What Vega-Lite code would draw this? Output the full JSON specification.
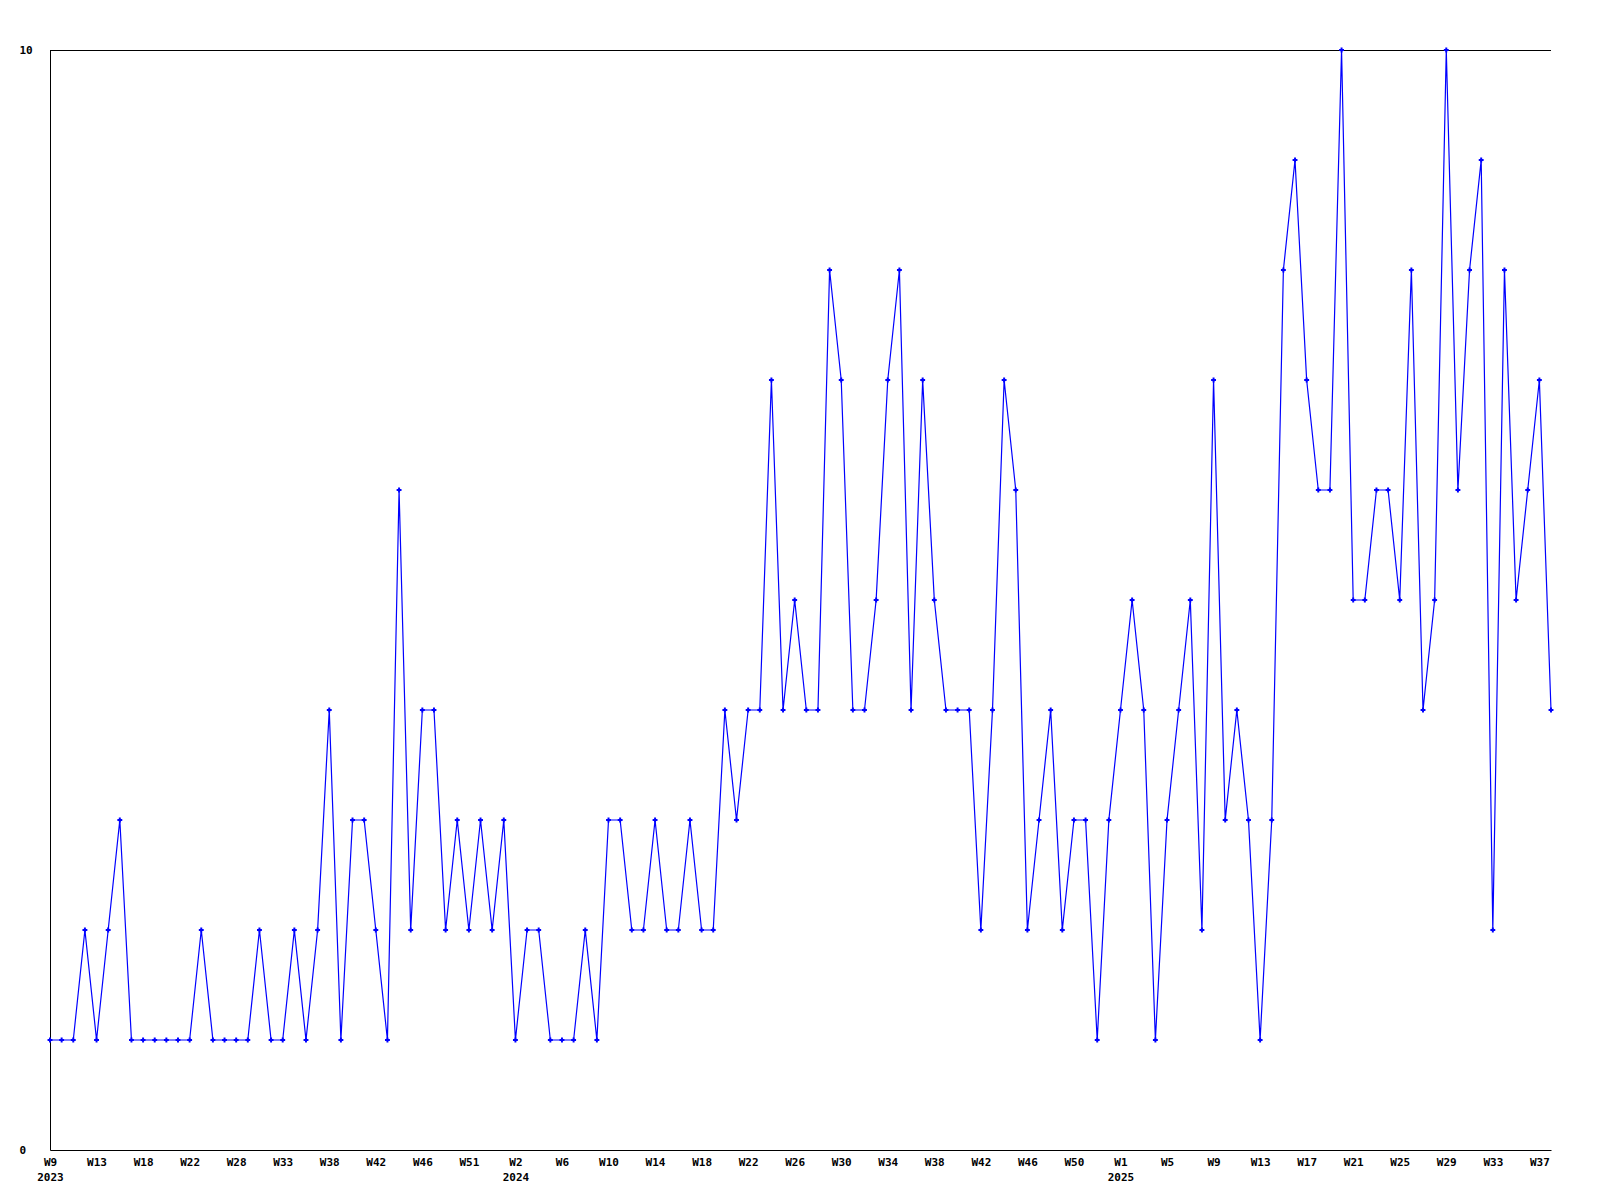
{
  "$schema": "https://vega.github.io/schema/vega-lite/v6.json",
  "width": 1501,
  "height": 1100,
  "autosize": {"type": "none"},
  "padding": {"left": 50, "top": 50, "right": 49, "bottom": 50},
  "background": "white",
  "config": {
    "view": {"stroke": null},
    "axis": {
      "labelFont": "DejaVu Sans Mono",
      "labelFontWeight": "bold",
      "labelFontSize": 11,
      "labelColor": "black",
      "domainColor": "black",
      "domainWidth": 1,
      "ticks": false,
      "grid": false,
      "title": null
    }
  },
  "data": {
    "values": [
      {"key": "2023-W9", "n": 1}, {"key": "2023-W10", "n": 1}, {"key": "2023-W11", "n": 1}, {"key": "2023-W12", "n": 2},
      {"key": "2023-W13", "n": 1}, {"key": "2023-W14", "n": 2}, {"key": "2023-W15", "n": 3}, {"key": "2023-W16", "n": 1},
      {"key": "2023-W18", "n": 1}, {"key": "2023-W19", "n": 1}, {"key": "2023-W20", "n": 1}, {"key": "2023-W21", "n": 1},
      {"key": "2023-W22", "n": 1}, {"key": "2023-W23", "n": 2}, {"key": "2023-W25", "n": 1}, {"key": "2023-W26", "n": 1},
      {"key": "2023-W28", "n": 1}, {"key": "2023-W29", "n": 1}, {"key": "2023-W30", "n": 2}, {"key": "2023-W31", "n": 1},
      {"key": "2023-W33", "n": 1}, {"key": "2023-W34", "n": 2}, {"key": "2023-W35", "n": 1}, {"key": "2023-W36", "n": 2},
      {"key": "2023-W38", "n": 4}, {"key": "2023-W39", "n": 1}, {"key": "2023-W40", "n": 3}, {"key": "2023-W41", "n": 3},
      {"key": "2023-W42", "n": 2}, {"key": "2023-W43", "n": 1}, {"key": "2023-W44", "n": 6}, {"key": "2023-W45", "n": 2},
      {"key": "2023-W46", "n": 4}, {"key": "2023-W47", "n": 4}, {"key": "2023-W48", "n": 2}, {"key": "2023-W50", "n": 3},
      {"key": "2023-W51", "n": 2}, {"key": "2023-W52", "n": 3}, {"key": "2023-W53", "n": 2}, {"key": "2024-W1", "n": 3},
      {"key": "2024-W2", "n": 1}, {"key": "2024-W3", "n": 2}, {"key": "2024-W4", "n": 2}, {"key": "2024-W5", "n": 1},
      {"key": "2024-W6", "n": 1}, {"key": "2024-W7", "n": 1}, {"key": "2024-W8", "n": 2}, {"key": "2024-W9", "n": 1},
      {"key": "2024-W10", "n": 3}, {"key": "2024-W11", "n": 3}, {"key": "2024-W12", "n": 2}, {"key": "2024-W13", "n": 2},
      {"key": "2024-W14", "n": 3}, {"key": "2024-W15", "n": 2}, {"key": "2024-W16", "n": 2}, {"key": "2024-W17", "n": 3},
      {"key": "2024-W18", "n": 2}, {"key": "2024-W19", "n": 2}, {"key": "2024-W20", "n": 4}, {"key": "2024-W21", "n": 3},
      {"key": "2024-W22", "n": 4}, {"key": "2024-W23", "n": 4}, {"key": "2024-W24", "n": 7}, {"key": "2024-W25", "n": 4},
      {"key": "2024-W26", "n": 5}, {"key": "2024-W27", "n": 4}, {"key": "2024-W28", "n": 4}, {"key": "2024-W29", "n": 8},
      {"key": "2024-W30", "n": 7}, {"key": "2024-W31", "n": 4}, {"key": "2024-W32", "n": 4}, {"key": "2024-W33", "n": 5},
      {"key": "2024-W34", "n": 7}, {"key": "2024-W35", "n": 8}, {"key": "2024-W36", "n": 4}, {"key": "2024-W37", "n": 7},
      {"key": "2024-W38", "n": 5}, {"key": "2024-W39", "n": 4}, {"key": "2024-W40", "n": 4}, {"key": "2024-W41", "n": 4},
      {"key": "2024-W42", "n": 2}, {"key": "2024-W43", "n": 4}, {"key": "2024-W44", "n": 7}, {"key": "2024-W45", "n": 6},
      {"key": "2024-W46", "n": 2}, {"key": "2024-W47", "n": 3}, {"key": "2024-W48", "n": 4}, {"key": "2024-W49", "n": 2},
      {"key": "2024-W50", "n": 3}, {"key": "2024-W51", "n": 3}, {"key": "2024-W52", "n": 1}, {"key": "2024-W53", "n": 3},
      {"key": "2025-W1", "n": 4}, {"key": "2025-W2", "n": 5}, {"key": "2025-W3", "n": 4}, {"key": "2025-W4", "n": 1},
      {"key": "2025-W5", "n": 3}, {"key": "2025-W6", "n": 4}, {"key": "2025-W7", "n": 5}, {"key": "2025-W8", "n": 2},
      {"key": "2025-W9", "n": 7}, {"key": "2025-W10", "n": 3}, {"key": "2025-W11", "n": 4}, {"key": "2025-W12", "n": 3},
      {"key": "2025-W13", "n": 1}, {"key": "2025-W14", "n": 3}, {"key": "2025-W15", "n": 8}, {"key": "2025-W16", "n": 9},
      {"key": "2025-W17", "n": 7}, {"key": "2025-W18", "n": 6}, {"key": "2025-W19", "n": 6}, {"key": "2025-W20", "n": 10},
      {"key": "2025-W21", "n": 5}, {"key": "2025-W22", "n": 5}, {"key": "2025-W23", "n": 6}, {"key": "2025-W24", "n": 6},
      {"key": "2025-W25", "n": 5}, {"key": "2025-W26", "n": 8}, {"key": "2025-W27", "n": 4}, {"key": "2025-W28", "n": 5},
      {"key": "2025-W29", "n": 10}, {"key": "2025-W30", "n": 6}, {"key": "2025-W31", "n": 8}, {"key": "2025-W32", "n": 9},
      {"key": "2025-W33", "n": 2}, {"key": "2025-W34", "n": 8}, {"key": "2025-W35", "n": 5}, {"key": "2025-W36", "n": 6},
      {"key": "2025-W37", "n": 7}, {"key": "2025-W38", "n": 4}
    ]
  },
  "layer": [
    {
      "mark": {"type": "rule", "color": "black", "strokeWidth": 1, "yOffset": 0.5},
      "encoding": {"y": {"datum": 10, "type": "quantitative", "scale": {"domain": [0, 10], "nice": false}}}
    },
    {
      "mark": {"type": "line", "color": "#0000ff", "strokeWidth": 1.2},
      "encoding": {
        "x": {
          "field": "key",
          "type": "ordinal",
          "sort": null,
          "scale": {"type": "point", "padding": 0},
          "axis": {
            "values": ["2023-W9","2023-W13","2023-W18","2023-W22","2023-W28","2023-W33","2023-W38","2023-W42","2023-W46","2023-W51","2024-W2","2024-W6","2024-W10","2024-W14","2024-W18","2024-W22","2024-W26","2024-W30","2024-W34","2024-W38","2024-W42","2024-W46","2024-W50","2025-W1","2025-W5","2025-W9","2025-W13","2025-W17","2025-W21","2025-W25","2025-W29","2025-W33","2025-W37"],
            "labelExpr": "(datum.value == '2023-W9' || datum.value == '2024-W2' || datum.value == '2025-W1') ? [split(datum.value, '-')[1], split(datum.value, '-')[0]] : split(datum.value, '-')[1]",
            "labelAngle": 0,
            "labelBaseline": "top",
            "labelAlign": "center",
            "labelPadding": 6,
            "labelLineHeight": 15,
            "labelOverlap": false,
            "labelFlush": false,
            "labelBound": false
          }
        },
        "y": {
          "field": "n",
          "type": "quantitative",
          "scale": {"domain": [0, 10], "nice": false},
          "axis": {
            "values": [0, 10],
            "format": "d",
            "labelAlign": "left",
            "labelBaseline": "middle",
            "labelPadding": 31,
            "labelFlush": false
          }
        }
      }
    },
    {
      "mark": {"type": "point", "shape": "cross", "filled": true, "color": "#0000ff", "size": 24, "opacity": 1},
      "encoding": {
        "x": {"field": "key", "type": "ordinal", "sort": null},
        "y": {"field": "n", "type": "quantitative"}
      }
    }
  ]
}
